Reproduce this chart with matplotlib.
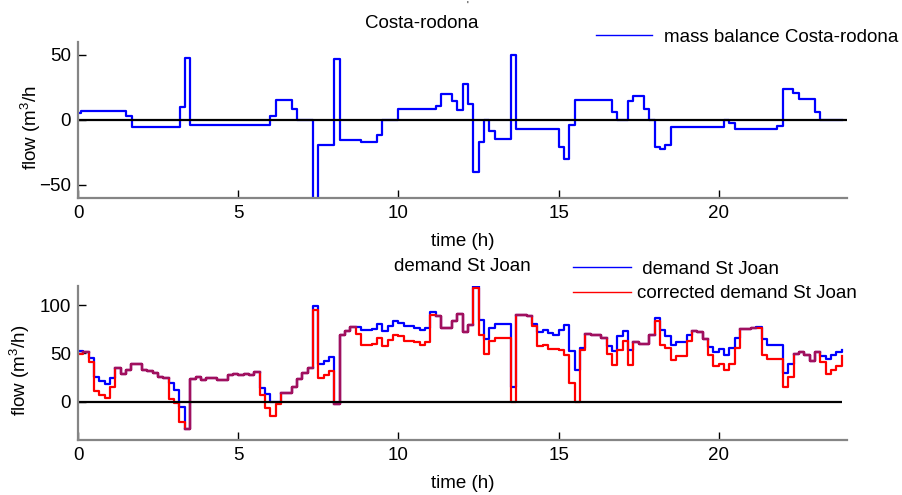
import matplotlib
matplotlib.use("Agg")
import matplotlib.pyplot as plt
import numpy as np

plt.rcParams["font.family"] = ["Liberation Sans", "DejaVu Sans"]
plt.rcParams["mathtext.fontset"] = "custom"
plt.rcParams["mathtext.rm"] = "Liberation Sans"
plt.rcParams["mathtext.default"] = "regular"

# --- top panel: mass balance Costa-rodona (step breakpoints, hours) ---
mb_t = [0, 0.1, 1.5, 1.67, 3.17, 3.33, 3.5, 6.0, 6.17, 6.67, 6.83,
        7.33, 7.5, 8.0, 8.17, 8.83, 9.33, 9.5, 10.0,
        11.17, 11.33, 11.67, 11.83, 12.0, 12.17, 12.33, 12.5, 12.67, 12.83, 13.0,
        13.5, 13.67, 15.0, 15.17, 15.33, 15.5, 16.67, 16.83,
        17.17, 17.33, 17.67, 17.83, 18.0, 18.17, 18.33, 18.5,
        20.17, 20.33, 20.5, 21.83, 22.0, 22.33, 22.5, 23.0, 23.17, 23.83]
mb_v = [5, 6.5, 3, -6, 9.5, 47.5, -3.8, 3, 15.4, 8.5, 0,
        -80, -19.5, 46.5, -16, -17.2, -11.5, 0, 8,
        10.8, 19.8, 14.1, 7.5, 27.5, 12, -40.2, -16.9, 0, -8.7, -14.9,
        50, -7, -21.3, -30.5, -4, 15.5, 6.2, 0,
        14.1, 18.5, 8.2, 0, -21, -22.5, -19.2, -5.9,
        0, -2.3, -6.9, -4.8, 23.8, 20.8, 15.7, 6.2, 0, 0]

# --- bottom panel: 10-minute values, one row per hour ---
demand = [
    52, 51.5, 45.5, 25.3, 21.2, 17.7,
    24.7, 34.7, 28.1, 32.3, 38.9, 38.9,
    32.6, 31.3, 29.9, 25.3, 24.3, 19.1,
    12.2, -5.9, -28.5, 23.6, 25, 22.2,
    24.3, 24.3, 21.9, 21.9, 27.1, 28.1,
    27.1, 28.1, 27.1, 30.2, 13.9, 7.6,
    0, 0, 8.7, 8.7, 14.9, 23.6,
    29.9, 34.7, 99, 38.5, 41.7, 46.5,
    -2.4, 68.8, 72.9, 77.8, 77.8, 74,
    74, 75.7, 80.6, 72.9, 78.5, 84,
    82, 78.5, 78.5, 76.7, 74.3, 76.7,
    93, 88.9, 76.4, 76.4, 83.7, 90.6,
    72.2, 79.9, 120, 84.4, 64.6, 76.7,
    80.2, 80.2, 80.2, 14.9, 89.6, 89.6,
    88.5, 80.2, 72.2, 74, 71.5, 69.4,
    74.6, 79.9, 52, 32.5, 55.6, 69.8,
    69.1, 69.1, 65.6, 57.6, 52.4, 67.7,
    73.3, 53.1, 61.8, 59.4, 59.4, 68.8,
    86.8, 74, 68, 58.3, 61.8, 61.8,
    69.4, 73.5, 72.2, 65.3, 56.6, 51.4,
    54.2, 47.9, 55.6, 66, 75.7, 75.7,
    76.4, 77, 65, 59, 59, 59,
    29.9, 38.5, 49.7, 51.4, 47.9, 41.7,
    51.4, 46.9, 43.8, 48.6, 51.4, 53.8,
]
corrected = [
    49.5, 51.5, 41, 10.4, 6.3, 3.8,
    14.6, 34.7, 28.1, 32.3, 38.9, 38.9,
    32.6, 31.3, 29.9, 25.3, 24.3, 2.8,
    -1.4, -20.8, -28.5, 23.6, 25, 22.2,
    24.3, 24.3, 21.9, 21.9, 27.1, 28.1,
    27.1, 28.1, 27.1, 30.2, 6.3, -7,
    -15.3, -3.1, 8.7, 8.7, 14.9, 23.6,
    29.9, 34.7, 95.5, 24.3, 27.8, 31.6,
    -2.4, 68.8, 72.9, 77.8, 70.1, 58.3,
    58.3, 60.1, 66, 57.3, 63.5, 69.4,
    68, 63.2, 63.2, 61.8, 58.3, 61.8,
    89.6, 88.9, 76.4, 76.4, 83.7, 90.6,
    72.2, 79.9, 118, 68.8, 49.7, 62.5,
    66, 66, 66, 0, 89.6, 89.6,
    88.5, 78, 57.3, 59, 54.9, 54.2,
    54, 47.9, 19.4, 0, 53, 69.8,
    69.1, 69.1, 65.6, 49.7, 37.5, 53.1,
    62.8, 37.5, 61.8, 59.4, 59.4, 68.8,
    83.7, 58.3, 55.6, 43, 46.9, 46.9,
    62.5, 73.5, 72.2, 65.3, 48.6, 36.5,
    38.5, 32.3, 38.5, 55.9, 75.7, 75.7,
    76.4, 76, 47.9, 44.5, 44.5, 44.5,
    14.9, 25.3, 49.7, 51.4, 47.9, 41.7,
    51.4, 41, 28.1, 32.3, 36.8, 46.9,
]
step_h = 1 / 6
t_dem = np.arange(len(demand)) * step_h

FS = 13.5
GRAY = "#858585"
BLUE = "#0000ff"
RED = "#ff0000"
BOTH = "#a0105e"  # where red is drawn over blue the old renderer mixed them


def style_axes(ax, ylim, yticks):
    ax.set_xlim(0, 24)
    ax.set_ylim(*ylim)
    ax.set_xticks([0, 5, 10, 15, 20])
    ax.set_yticks(yticks)
    for s in ("top", "right"):
        ax.spines[s].set_visible(False)
    for s in ("left", "bottom"):
        ax.spines[s].set_color(GRAY)
        ax.spines[s].set_linewidth(1.6)
    ax.tick_params(direction="in", length=6, width=1.0, color="black",
                   labelsize=FS, pad=5)
    ax.set_xlabel("time (h)", fontsize=FS, labelpad=8)


fig = plt.figure(figsize=(9.02, 4.95), dpi=100)
ax1 = fig.add_axes([0.0865, 0.6006, 0.8525, 0.3152])
ax2 = fig.add_axes([0.0865, 0.1111, 0.8525, 0.3111])

# top
ax1.step(mb_t, mb_v, where="post", color=BLUE, lw=1.6,
         label="mass balance Costa-rodona")
ax1.hlines(0, 0, 24, color="black", lw=1.6)
style_axes(ax1, (-60, 60), [-50, 0, 50])
ax1.set_ylabel("flow (m$^3$/h", fontsize=FS)
ax1.yaxis.set_label_coords(-0.045, 0.45)
ax1.set_title("Costa-rodona", fontsize=FS, x=0.447, pad=10)
leg1 = ax1.legend(loc="center left", bbox_to_anchor=(596 / 902, 1 - 37 / 495),
                  bbox_transform=fig.transFigure, frameon=False, fontsize=FS,
                  handlelength=3.0, handletextpad=0.6, borderpad=0,
                  borderaxespad=0)
leg1.legend_handles[0].set_linewidth(1.0)

# bottom
dem = np.array(demand, dtype=float)
cor = np.array(corrected, dtype=float)
shared = np.where(np.isclose(dem, cor), dem, np.nan)

ax2.step(t_dem, dem, where="post", color=BLUE, lw=1.6, label=" demand St Joan")
ax2.step(t_dem, cor, where="post", color=RED, lw=1.6,
         label="corrected demand St Joan")
ax2.step(t_dem, shared, where="post", color=BOTH, lw=1.7)
ax2.hlines(0, t_dem[0], t_dem[-1], color="black", lw=1.6)
style_axes(ax2, (-40, 120), [0, 50, 100])
ax2.set_ylabel("flow (m$^3$/h)", fontsize=FS)
ax2.yaxis.set_label_coords(-0.06, 0.45)
ax2.set_title("demand St Joan", fontsize=FS, pad=11)
leg2 = ax2.legend(loc="center left", bbox_to_anchor=(573 / 902, 1 - 281.5 / 495),
                  bbox_transform=fig.transFigure, frameon=False, fontsize=FS,
                  handlelength=3.1, handletextpad=0.3, borderpad=0,
                  borderaxespad=0, labelspacing=0.4)
for h in leg2.legend_handles:
    h.set_linewidth(1.0)

fig.text(467 / 902, 1 - 6 / 495, "'", fontsize=7, ha="center", va="center")

fig.savefig("out.png", dpi=100)
